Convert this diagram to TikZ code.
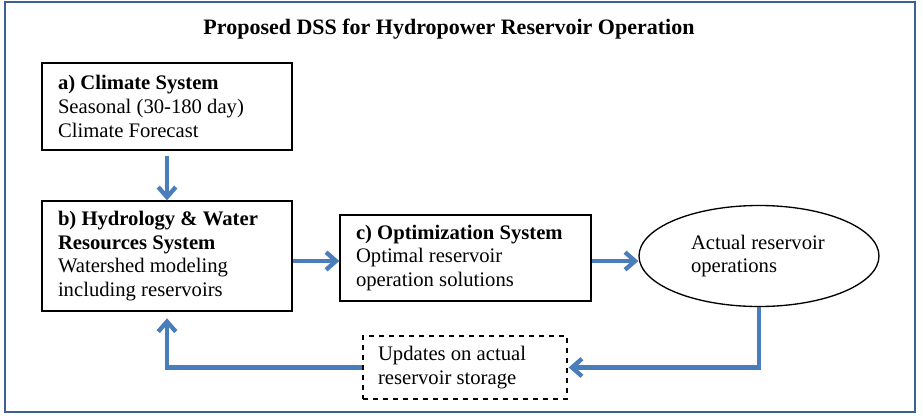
\documentclass[tikz,border=0pt]{standalone}
\usepackage{fontspec}
\setmainfont{Liberation Serif}
\usepackage{tikz}
\usetikzlibrary{arrows.meta,shapes.geometric}
\definecolor{flowblue}{RGB}{74,126,187}
\definecolor{frameblue}{RGB}{62,96,145}

\begin{document}
\begin{tikzpicture}[x=0.6pt, y=-0.6pt,
	textbox/.style={font=\fontsize{12.4}{14.2}\selectfont, draw, line width=0.8pt, inner xsep=9.6pt, inner ysep=0pt, align=flush left},
	oval/.style={ellipse, font=\fontsize{12.4}{14.2}\selectfont, draw, line width=0.8pt, inner sep=2pt, align=flush left},
	flow/.style={draw=flowblue, line width=2.6pt, -{Straight Barb[length=6pt,width=10.5pt]}}
]
\useasboundingbox (0,0) rectangle (923,417);
\draw[frameblue, line width=1.3pt] (5,2) rectangle (915,412);
\node[font=\fontsize{13.2}{15}\selectfont\bfseries] (title) at (449,29) {Proposed DSS for Hydropower Reservoir Operation};
%text width
\node[textbox, text width=130.8pt, minimum height=52.2pt] (a) at (167,106.5) {\textbf{a) Climate System}\\Seasonal (30-180 day)\\Climate Forecast};
\node[textbox, text width=130.8pt, minimum height=66pt] (b) at (167,256) {\textbf{b) Hydrology \& Water}\\\textbf{Resources System}\\Watershed modeling\\including reservoirs};
\node[textbox, text width=131.4pt, minimum height=51.6pt] (c) at (465.5,258) {\textbf{c) Optimization System}\\Optimal reservoir\\operation solutions};
\node[oval, text width=81.6pt, minimum width=144pt, minimum height=60.6pt] (ops) at (759,256) {Actual reservoir\\operations};
\node[textbox, dashed, inner xsep=9pt, text width=104.4pt, minimum height=37.8pt] (upd) at (465,367.5) {Updates on actual\\reservoir storage};
\coordinate (cin) at ([yshift=-1.8pt]c.west);
\coordinate (cout) at ([yshift=-1.8pt]c.east);
\draw [flow, shorten <=3pt] (a) -- (b);
\draw [flow] (b.east |- cin) -- (cin);
\draw [flow] (cout) -- (cout -| ops.west);
\draw [flow, shorten >=0.6pt] (ops.south) |- (upd.east);
\draw [flow, shorten >=4pt] (upd.west) -| (b.south);
\end{tikzpicture}
\end{document}
